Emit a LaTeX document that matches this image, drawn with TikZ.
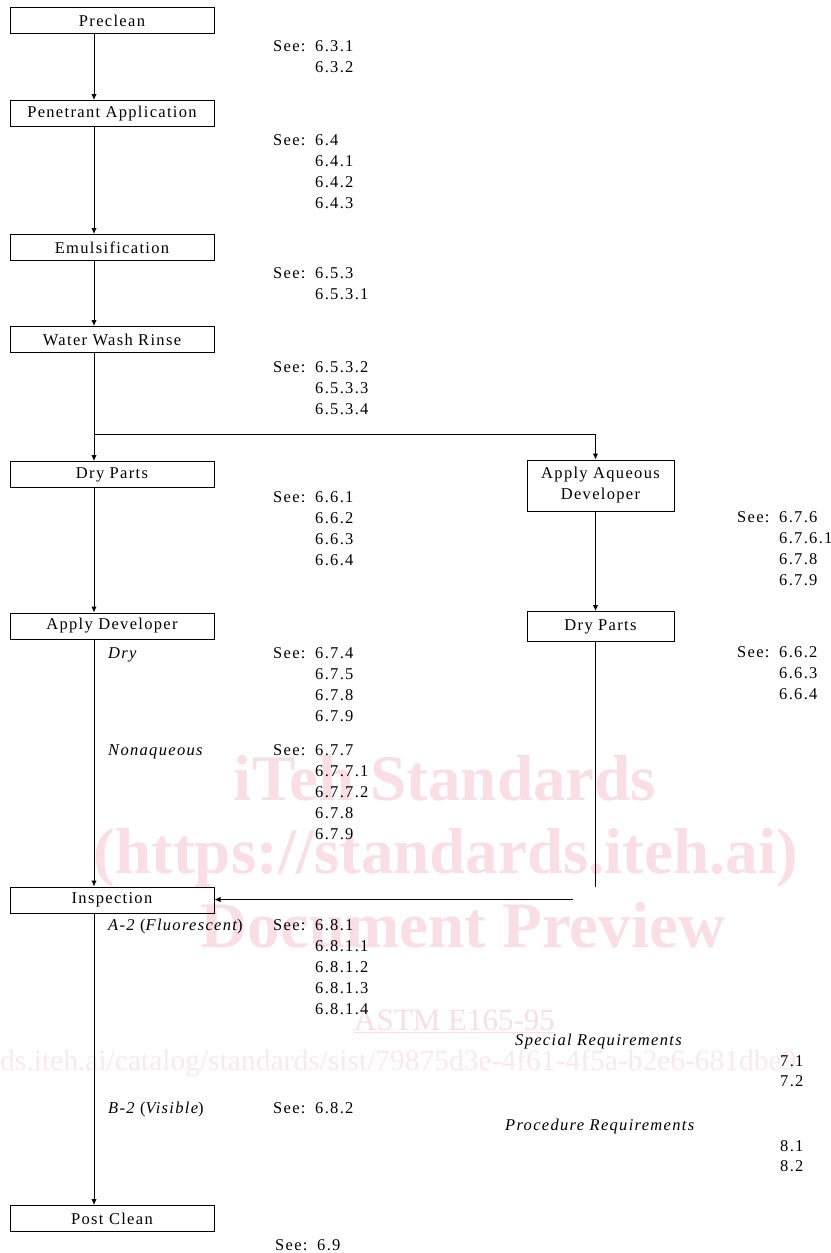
\documentclass[tikz,border=0pt]{standalone}
\usepackage{fontspec}
\setmainfont{Liberation Serif}
\newfontfamily\lab{Liberation Serif}[LetterSpace=8]
\usetikzlibrary{arrows.meta}
\definecolor{wmpink}{RGB}{249,222,230}
\definecolor{wmlight}{RGB}{251,232,238}
\newcommand\seeblk[4]{%
  \node[txt] (#1) at (#2,#3) {See:};
  \foreach \t [count=\i from 0] in {#4} {\node[txt] (#1-\i) at ({#2+42},{#3+21*\i}) {\t};}
}
\begin{document}
\begin{tikzpicture}[x=1pt,y=-1pt,
  box/.style={draw, line width=1pt, inner sep=0pt, align=center,
    font=\lab\fontsize{16.5}{21}\selectfont},
  lbox/.style={box, minimum width=204pt, minimum height=26pt},
  arr/.style={line width=1pt, -{Latex[length=6pt,width=5.5pt]}},
  ln/.style={line width=1pt},
  txt/.style={anchor=base west, inner sep=0pt, font=\lab\fontsize{16.5}{21}\selectfont},
  itx/.style={txt, font=\lab\itshape\fontsize{16.5}{21}\selectfont},
  wm/.style={text=wmpink, anchor=base, inner sep=0pt, font=\bfseries\fontsize{65}{70}\selectfont}]
\useasboundingbox (0,0) rectangle (830,1253);

% watermark
\node[wm] (wm1) at (445,800) {iTeh Standards};
\node[wm] (wm2) at (446,873) {(https://standards.iteh.ai)};
\node[wm] (wm3) at (463,947) {Document Preview};
\node[anchor=base west, inner sep=0pt, text=wmpink, font=\fontsize{31}{31}\selectfont] (wm4) at (354,1030) {\underline{ASTM E165-95}};
\node[anchor=base west, inner sep=0pt, text=wmlight, font=\fontsize{29.5}{30}\selectfont] (wm5) at (0,1070) {ds.iteh.ai/catalog/standards/sist/79875d3e-4f61-4f5a-b2e6-681dbe9};

% boxes
\node[lbox] (pre)  at (112,20.5)  {Preclean};
\node[lbox] (pen)  at (112,113.5) {Penetrant Application};
\node[lbox] (emu)  at (112,247.5) {Emulsification};
\node[lbox] (wwr)  at (112,339.5) {Water Wash Rinse};
\node[lbox] (dry1) at (112,474.5) {Dry Parts};
\node[lbox] (apd)  at (112,626)   {Apply Developer};
\node[lbox] (insp) at (112,900)   {Inspection};
\node[lbox] (post) at (112,1218.5){Post Clean};
\node[box, minimum width=147pt, minimum height=51pt] (aad) at (600.5,485.5) {Apply Aqueous\\Developer};
\node[box, minimum width=147pt, minimum height=30pt] (dry2) at (600.5,626.5) {Dry Parts};

% connectors
\coordinate (xl) at (94,0);
\coordinate (xr) at (595.5,0);
\coordinate (br) at (94,434);
\coordinate (rend) at (595.5,887);
\coordinate (hst) at (573,899.5);
\draw[arr] (pre.south -| xl) -- (pen.north -| xl);
\draw[arr] (pen.south -| xl) -- (emu.north -| xl);
\draw[arr] (emu.south -| xl) -- (wwr.north -| xl);
\draw[arr] (wwr.south -| xl) -- (dry1.north -| xl);
\draw[arr] (br) -| (aad.north -| xr);
\draw[arr] (dry1.south -| xl) -- (apd.north -| xl);
\draw[arr] (apd.south -| xl) -- (insp.north -| xl);
\draw[arr] (insp.south -| xl) -- (post.north -| xl);
\draw[arr] (aad.south -| xr) -- (dry2.north -| xr);
\draw[ln] (dry2.south -| xr) -- (rend);
\draw[arr] (hst) -- (insp.east |- hst);

% references
\seeblk{sa}{273}{51}{6.3.1,6.3.2}
\seeblk{sb}{273}{145}{6.4,6.4.1,6.4.2,6.4.3}
\seeblk{sc}{273}{278}{6.5.3,6.5.3.1}
\seeblk{sd}{273}{372}{6.5.3.2,6.5.3.3,6.5.3.4}
\seeblk{se}{273}{502}{6.6.1,6.6.2,6.6.3,6.6.4}
\seeblk{sf}{737}{522}{6.7.6,6.7.6.1,6.7.8,6.7.9}
\seeblk{sg}{273}{658}{6.7.4,6.7.5,6.7.8,6.7.9}
\seeblk{sh}{737}{657}{6.6.2,6.6.3,6.6.4}
\seeblk{si}{273}{755}{6.7.7,6.7.7.1,6.7.7.2,6.7.8,6.7.9}
\seeblk{sj}{273}{930}{6.8.1,6.8.1.1,6.8.1.2,6.8.1.3,6.8.1.4}
\seeblk{sk}{273}{1113}{6.8.2}
\seeblk{sl}{275}{1250}{6.9}

\node[itx] (ldry) at (108,658) {Dry};
\node[itx] (lnon) at (108,755) {Nonaqueous};
\node[txt] (lflu) at (108,930) {{\itshape A-2} ({\itshape Fluorescent})};
\node[txt] (lvis) at (108,1113) {{\itshape B-2} ({\itshape Visible})};
\node[itx] (lspe) at (515,1045) {Special Requirements};
\node[txt] (r71) at (780,1066) {7.1};
\node[txt] (r72) at (780,1086) {7.2};
\node[itx] (lpro) at (505,1130) {Procedure Requirements};
\node[txt] (r81) at (780,1151) {8.1};
\node[txt] (r82) at (780,1171) {8.2};
\end{tikzpicture}
\end{document}
